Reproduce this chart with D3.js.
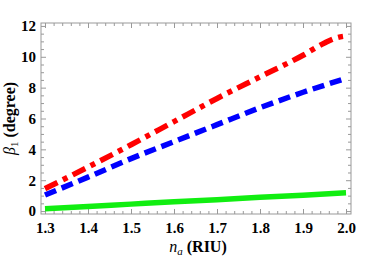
<!DOCTYPE html>
<html>
<head>
<meta charset="utf-8">
<script src="https://cdn.jsdelivr.net/npm/d3@7"></script>
<style>
  body { margin: 0; background: #fff; }
  text { font-family: "Liberation Serif", "Times New Roman", serif; font-weight: bold; }
</style>
</head>
<body>
<div id="chart"></div>
<script>
// refractive index n_a (RIU)
const naRed = [1.30, 1.40, 1.50, 1.60, 1.70, 1.80, 1.90, 1.95, 1.98, 2.00];
const betaRed = [1.45, 2.85, 4.3, 5.8, 7.3, 8.7, 10.1, 10.9, 11.25, 11.35];
const naBlue = [1.30, 1.40, 1.50, 1.60, 1.70, 1.80, 1.90, 2.00];
const betaBlue = [1.04, 2.2, 3.4, 4.5, 5.6, 6.7, 7.7, 8.6];
const naGreen = [1.30, 1.40, 1.50, 1.60, 1.70, 1.80, 1.90, 2.00];
const betaGreen = [0.15, 0.3, 0.45, 0.6, 0.74, 0.89, 1.03, 1.18];
const xTicks = [1.3, 1.4, 1.5, 1.6, 1.7, 1.8, 1.9, 2.0];
const yTicks = [0, 2, 4, 6, 8, 10, 12];

const width = 374, height = 258;
const margin = {top: 23, right: 23, bottom: 44, left: 41};

const svg = d3.select('#chart').append('svg')
  .attr('width', width)
  .attr('height', height);

const x = d3.scaleLinear().domain([1.2907, 2.0116]).range([margin.left, width - margin.right]);
const y = d3.scaleLinear().domain([-0.19, 12.19]).range([height - margin.bottom, margin.top]);

// frame
svg.append('rect')
  .attr('x', x.range()[0]).attr('y', y.range()[1])
  .attr('width', x.range()[1] - x.range()[0])
  .attr('height', y.range()[0] - y.range()[1])
  .attr('fill', 'none').attr('stroke', '#999').attr('stroke-width', 1);

const xMinor = d3.range(1.30, 2.001, 0.02).filter(v => !xTicks.some(t => Math.abs(t - v) < 1e-6));
const yMinor = d3.range(0, 12.01, 0.5).filter(v => !yTicks.includes(v));

function styleAxis(g) {
  g.select('.domain').remove();
  g.selectAll('.tick line').attr('stroke', '#999');
  g.selectAll('.tick text').attr('font-size', 15).attr('fill', '#000');
}

// bottom / top axes (ticks inward)
svg.append('g').attr('transform', `translate(0,${y.range()[0]})`)
  .call(d3.axisBottom(x).tickValues(xTicks).tickSize(-5).tickPadding(8).tickFormat(d3.format('.1f')))
  .call(styleAxis);
svg.append('g').attr('transform', `translate(0,${y.range()[0]})`)
  .call(d3.axisBottom(x).tickValues(xMinor).tickSize(-3).tickFormat(''))
  .call(styleAxis);
svg.append('g').attr('transform', `translate(0,${y.range()[1]})`)
  .call(d3.axisTop(x).tickValues(xTicks).tickSize(-5).tickFormat(''))
  .call(styleAxis);
svg.append('g').attr('transform', `translate(0,${y.range()[1]})`)
  .call(d3.axisTop(x).tickValues(xMinor).tickSize(-3).tickFormat(''))
  .call(styleAxis);

// left / right axes
svg.append('g').attr('transform', `translate(${x.range()[0]},0)`)
  .call(d3.axisLeft(y).tickValues(yTicks).tickSize(-5).tickPadding(5))
  .call(styleAxis);
svg.append('g').attr('transform', `translate(${x.range()[0]},0)`)
  .call(d3.axisLeft(y).tickValues(yMinor).tickSize(-3).tickFormat(''))
  .call(styleAxis);
svg.append('g').attr('transform', `translate(${x.range()[1]},0)`)
  .call(d3.axisRight(y).tickValues(yTicks).tickSize(-5).tickFormat(''))
  .call(styleAxis);
svg.append('g').attr('transform', `translate(${x.range()[1]},0)`)
  .call(d3.axisRight(y).tickValues(yMinor).tickSize(-3).tickFormat(''))
  .call(styleAxis);

// curves
const line = d3.line().x(d => x(d[0])).y(d => y(d[1])).curve(d3.curveMonotoneX);
const series = [
  {xs: naGreen, ys: betaGreen, color: '#11ee11', dash: null},
  {xs: naBlue, ys: betaBlue, color: '#0000ff', dash: '12,6'},
  {xs: naRed, ys: betaRed, color: '#ff0000', dash: '14,6,5,6'}
];
series.forEach(s => {
  svg.append('path')
    .datum(d3.zip(s.xs, s.ys))
    .attr('d', line)
    .attr('fill', 'none')
    .attr('stroke', s.color)
    .attr('stroke-width', 5.5)
    .attr('stroke-dasharray', s.dash);
});

// axis titles
const xt = svg.append('text')
  .attr('x', (x.range()[0] + x.range()[1]) / 2 + 2)
  .attr('y', 252)
  .attr('text-anchor', 'middle')
  .attr('font-size', 16);
xt.append('tspan').attr('font-style', 'italic').attr('font-weight', 'normal').text('n');
xt.append('tspan').attr('font-style', 'italic').attr('font-weight', 'normal').attr('font-size', 11).attr('dy', 3).text('a');
xt.append('tspan').attr('dy', -3).text(' (RIU)');

const yt = svg.append('text')
  .attr('transform', `translate(15,${(y.range()[0] + y.range()[1]) / 2}) rotate(-90)`)
  .attr('text-anchor', 'middle')
  .attr('font-size', 16);
yt.append('tspan').attr('font-style', 'italic').attr('font-weight', 'normal').text('β');
yt.append('tspan').attr('font-weight', 'normal').attr('font-size', 11).attr('dy', 3).text('1');
yt.append('tspan').attr('dy', -3).text(' (degree)');
</script>
</body>
</html>
